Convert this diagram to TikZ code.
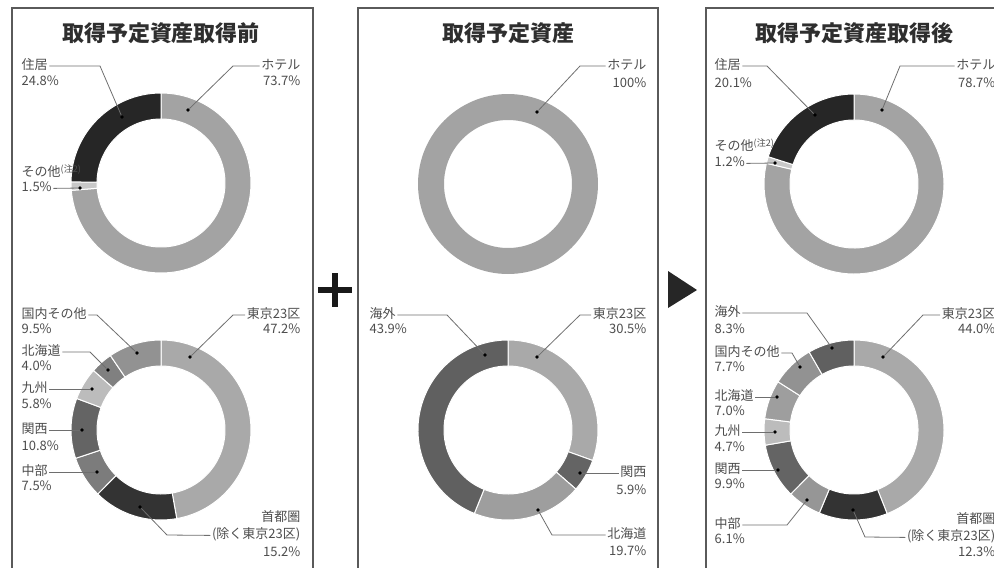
\documentclass[tikz,border=0pt]{standalone}
\usepackage{fontspec}
\setmainfont{Noto Sans CJK JP}
\usepackage{xcolor}
\usepackage{tikz}
\usetikzlibrary{positioning}
\definecolor{framegray}{HTML}{5A5A5A}
\definecolor{titlegray}{HTML}{2E2E2E}
\definecolor{textgray}{HTML}{4D4D4D}
\definecolor{leadgray}{HTML}{6E6E6E}
\definecolor{hotelgray}{HTML}{A3A3A3}
\definecolor{jukyogray}{HTML}{262626}
\definecolor{othergray}{HTML}{C8C8C8}
\definecolor{tokyogray}{HTML}{A9A9A9}
\definecolor{shutogray}{HTML}{333333}
\definecolor{chubugray}{HTML}{7C7C7C}
\definecolor{kansaigray}{HTML}{646464}
\definecolor{kyushugray}{HTML}{BCBCBC}
\definecolor{hokkaigray}{HTML}{808080}
\definecolor{hokkaigrayb}{HTML}{9E9E9E}
\definecolor{domesgray}{HTML}{929292}
\definecolor{kaigaigray}{HTML}{606060}
\tikzset{
	lbl/.style = {inner xsep=1.5pt, inner ysep=0pt, text=textgray, font=\fontsize{13}{15}\selectfont, text height=9.5pt, text depth=2.5pt},
	ttl/.style = {inner sep=0pt, text=titlegray, font=\bfseries\fontsize{22}{24}\selectfont},
	segdot/.style = {circle, fill=black, inner sep=0pt, minimum size=3.6pt},
	lead/.style = {draw=leadgray, line width=0.8pt},
	panel/.style = {draw=framegray, line width=1.6pt}
}
\newcommand{\ringpart}[4]{%
	\fill[#4, draw=white, line width=1pt] (#1) ++(#2:90) arc[start angle=#2, end angle=#3, radius=90]
		-- ++(#3:-26) arc[start angle=#3, end angle=#2, radius=64] -- cycle;}

\begin{document}
\begin{tikzpicture}[x=1pt, y=1pt]
	\useasboundingbox (0,0) rectangle (994,-568);
	\clip (0,0) rectangle (994,-568);
	% panels
	\draw[panel] (12,-8) rectangle (313,-600);
	\draw[panel] (358,-8) rectangle (658,-600);
	\draw[panel] (706,-8) rectangle (1006,-600);
	\node[ttl] (t1) at (161,-33) {取得予定資産取得前};
	\node[ttl] (t2) at (508,-33) {取得予定資産};
	\node[ttl] (t3) at (854,-33) {取得予定資産取得後};
	% plus and arrow
	\fill[black!90] (318,-287.3) rectangle (352,-292.7);
	\fill[black!90] (332.3,-273) rectangle (337.7,-307);
	\fill[black!85] (668,-271) -- (697,-290) -- (668,-308) -- cycle;
	% ring centres
	\coordinate (c1t) at (161,-183);
	\coordinate (c1b) at (161,-430);
	\coordinate (c2t) at (508,-184);
	\coordinate (c2b) at (508,-430);
	\coordinate (c3t) at (854,-184);
	\coordinate (c3b) at (854,-430);
	% before: use
	\ringpart{c1t}{90}{-175.32}{hotelgray}
	\ringpart{c1t}{-175.32}{-180.72}{othergray}
	\ringpart{c1t}{-180.72}{-270}{jukyogray}
	% before: area
	\ringpart{c1b}{90}{-79.92}{tokyogray}
	\ringpart{c1b}{-79.92}{-134.64}{shutogray}
	\ringpart{c1b}{-134.64}{-161.64}{chubugray}
	\ringpart{c1b}{-161.64}{-200.52}{kansaigray}
	\ringpart{c1b}{-200.52}{-221.4}{kyushugray}
	\ringpart{c1b}{-221.4}{-235.8}{hokkaigray}
	\ringpart{c1b}{-235.8}{-270}{domesgray}
	% assets
	\fill[hotelgray, even odd rule] (c2t) circle[radius=90] (c2t) circle[radius=64];
	\ringpart{c2b}{90}{-19.8}{tokyogray}
	\ringpart{c2b}{-19.8}{-41.04}{kansaigray}
	\ringpart{c2b}{-41.04}{-111.96}{hokkaigrayb}
	\ringpart{c2b}{-111.96}{-270}{kaigaigray}
	% after: use
	\ringpart{c3t}{90}{-193.32}{hotelgray}
	\ringpart{c3t}{-193.32}{-197.64}{othergray}
	\ringpart{c3t}{-197.64}{-270}{jukyogray}
	% after: area
	\ringpart{c3b}{90}{-68.4}{tokyogray}
	\ringpart{c3b}{-68.4}{-112.68}{shutogray}
	\ringpart{c3b}{-112.68}{-134.64}{chubugray!80!white}
	\ringpart{c3b}{-134.64}{-170.28}{kansaigray}
	\ringpart{c3b}{-170.28}{-187.2}{kyushugray}
	\ringpart{c3b}{-187.2}{-212.4}{hokkaigrayb}
	\ringpart{c3b}{-212.4}{-240.12}{domesgray}
	\ringpart{c3b}{-240.12}{-270}{kaigaigray}

	% labels, panel 1
	\node[lbl, anchor=west] (jk1) at (20,-66) {住居};
	\node[lbl, below=4pt of jk1.south west, anchor=north west] (jk1p) {24.8\%};
	\node[lbl, anchor=east] (ht1) at (302,-66) {ホテル};
	\node[lbl, below=4pt of ht1.south east, anchor=north east] (ht1p) {73.7\%};
	\node[lbl, anchor=west] (ot1) at (20,-173) {その他\textsuperscript{(注2)}};
	\node[lbl, below=3pt of ot1.south west, anchor=north west] (ot1p) {1.5\%};
	\node[lbl, anchor=west] (ab1) at (20,-315) {国内その他};
	\node[lbl, below=3pt of ab1.south west, anchor=north west] (ab1p) {9.5\%};
	\node[lbl, anchor=west] (hk1) at (20,-352) {北海道};
	\node[lbl, below=3pt of hk1.south west, anchor=north west] (hk1p) {4.0\%};
	\node[lbl, anchor=west] (ks1) at (20,-389) {九州};
	\node[lbl, below=4pt of ks1.south west, anchor=north west] (ks1p) {5.8\%};
	\node[lbl, anchor=west] (kn1) at (20,-430) {関西};
	\node[lbl, below=5pt of kn1.south west, anchor=north west] (kn1p) {10.8\%};
	\node[lbl, anchor=west] (cb1) at (20,-472) {中部};
	\node[lbl, below=3pt of cb1.south west, anchor=north west] (cb1p) {7.5\%};
	\node[lbl, anchor=east] (tk1) at (302,-315) {東京23区};
	\node[lbl, below=3pt of tk1.south east, anchor=north east] (tk1p) {47.2\%};
	\node[lbl, anchor=east] (sh1) at (302,-518) {首都圏};
	\node[lbl, below=5pt of sh1.south east, anchor=north east] (sh1x) {(除く東京23区)};
	\node[lbl, below=5pt of sh1x.south east, anchor=north east] (sh1p) {15.2\%};

	% labels, panel 2
	\node[lbl, anchor=east] (ht2) at (648,-66) {ホテル};
	\node[lbl, below=6pt of ht2.south east, anchor=north east] (ht2p) {100\%};
	\node[lbl, anchor=west] (kg2) at (368,-315) {海外};
	\node[lbl, below=3pt of kg2.south west, anchor=north west] (kg2p) {43.9\%};
	\node[lbl, anchor=east] (tk2) at (648,-315) {東京23区};
	\node[lbl, below=3pt of tk2.south east, anchor=north east] (tk2p) {30.5\%};
	\node[lbl, anchor=east] (kn2) at (648,-473) {関西};
	\node[lbl, below=6pt of kn2.south east, anchor=north east] (kn2p) {5.9\%};
	\node[lbl, anchor=east] (hk2) at (648,-535) {北海道};
	\node[lbl, below=5pt of hk2.south east, anchor=north east] (hk2p) {19.7\%};

	% labels, panel 3
	\node[lbl, anchor=west] (jk3) at (713,-66) {住居};
	\node[lbl, below=6pt of jk3.south west, anchor=north west] (jk3p) {20.1\%};
	\node[lbl, anchor=east] (ht3) at (997,-66) {ホテル};
	\node[lbl, below=6pt of ht3.south east, anchor=north east] (ht3p) {78.7\%};
	\node[lbl, anchor=west] (ot3) at (713,-147) {その他\textsuperscript{(注2)}};
	\node[lbl, below=4pt of ot3.south west, anchor=north west] (ot3p) {1.2\%};
	\node[lbl, anchor=west] (kg3) at (713,-313) {海外};
	\node[lbl, below=5pt of kg3.south west, anchor=north west] (kg3p) {8.3\%};
	\node[lbl, anchor=west] (ab3) at (713,-353) {国内その他};
	\node[lbl, below=3pt of ab3.south west, anchor=north west] (ab3p) {7.7\%};
	\node[lbl, anchor=west] (hk3) at (713,-397) {北海道};
	\node[lbl, below=3pt of hk3.south west, anchor=north west] (hk3p) {7.0\%};
	\node[lbl, anchor=west] (ks3) at (713,-432) {九州};
	\node[lbl, below=4pt of ks3.south west, anchor=north west] (ks3p) {4.7\%};
	\node[lbl, anchor=west] (kn3) at (713,-470) {関西};
	\node[lbl, below=3pt of kn3.south west, anchor=north west] (kn3p) {9.9\%};
	\node[lbl, anchor=west] (cb3) at (713,-525) {中部};
	\node[lbl, below=3pt of cb3.south west, anchor=north west] (cb3p) {6.1\%};
	\node[lbl, anchor=east] (tk3) at (997,-315) {東京23区};
	\node[lbl, below=3pt of tk3.south east, anchor=north east] (tk3p) {44.0\%};
	\node[lbl, anchor=east] (sh3) at (997,-520) {首都圏};
	\node[lbl, below=5pt of sh3.south east, anchor=north east] (sh3x) {(除く東京23区)};
	\node[lbl, below=3pt of sh3x.south east, anchor=north east] (sh3p) {12.3\%};

	% dots on the rings
	\node[segdot] (dht1) at (188,-110) {};
	\node[segdot] (djk1) at (122,-117) {};
	\node[segdot] (dot1) at (80,-188) {};
	\node[segdot] (dtk1) at (190,-357) {};
	\node[segdot] (dab1) at (137,-353) {};
	\node[segdot] (dhk1) at (108,-370) {};
	\node[segdot] (dks1) at (92,-389) {};
	\node[segdot] (dkn1) at (82,-430) {};
	\node[segdot] (dcb1) at (97,-472) {};
	\node[segdot] (dsh1) at (140,-507) {};
	\node[segdot] (dht2) at (537,-112) {};
	\node[segdot] (dtk2) at (537,-357) {};
	\node[segdot] (dkg2) at (485,-355) {};
	\node[segdot] (dkn2) at (580,-473) {};
	\node[segdot] (dhk2) at (538,-510) {};
	\node[segdot] (dht3) at (882,-110) {};
	\node[segdot] (djk3) at (815,-115) {};
	\node[segdot] (dot3) at (775,-163) {};
	\node[segdot] (dtk3) at (883,-357) {};
	\node[segdot] (dkg3) at (832,-348) {};
	\node[segdot] (dab3) at (800,-367) {};
	\node[segdot] (dhk3) at (777,-397) {};
	\node[segdot] (dks3) at (775,-432) {};
	\node[segdot] (dkn3) at (778,-470) {};
	\node[segdot] (dcb3) at (807,-500) {};
	\node[segdot] (dsh3) at (853,-510) {};

	% leader lines
	\draw[lead] (jk1.east) -- (100,-66) -- (djk1);
	\draw[lead] (ht1.west) -- (233,-66) -- (dht1);
	\draw[lead] (ot1p.east) -- (dot1);
	\draw[lead] (ab1.east) -- (97,-315) -- (dab1);
	\draw[lead] (hk1.east) -- (90,-352) -- (dhk1);
	\draw[lead] (ks1.east) -- (dks1);
	\draw[lead] (kn1.east) -- (dkn1);
	\draw[lead] (cb1.east) -- (dcb1);
	\draw[lead] (tk1.west) -- (233,-315) -- (dtk1);
	\draw[lead] (dsh1) -- (167,-535) -- (sh1x.west);
	\draw[lead] (ht2.west) -- (580,-66) -- (dht2);
	\draw[lead] (kg2.east) -- (447,-315) -- (dkg2);
	\draw[lead] (tk2.west) -- (580,-315) -- (dtk2);
	\draw[lead] (kn2.west) -- (dkn2);
	\draw[lead] (dhk2) -- (552,-535) -- (hk2.west);
	\draw[lead] (jk3.east) -- (767,-66) -- (djk3);
	\draw[lead] (ht3.west) -- (900,-66) -- (dht3);
	\draw[lead] (ot3p.east) -- (dot3);
	\draw[lead] (kg3.east) -- (807,-313) -- (dkg3);
	\draw[lead] (ab3.east) -- (792,-353) -- (dab3);
	\draw[lead] (hk3.east) -- (dhk3);
	\draw[lead] (ks3.east) -- (dks3);
	\draw[lead] (kn3.east) -- (dkn3);
	\draw[lead] (cb3.east) -- (787,-525) -- (dcb3);
	\draw[lead] (tk3.west) -- (923,-315) -- (dtk3);
	\draw[lead] (dsh3) -- (865,-537) -- (sh3x.west);
\end{tikzpicture}
\end{document}
